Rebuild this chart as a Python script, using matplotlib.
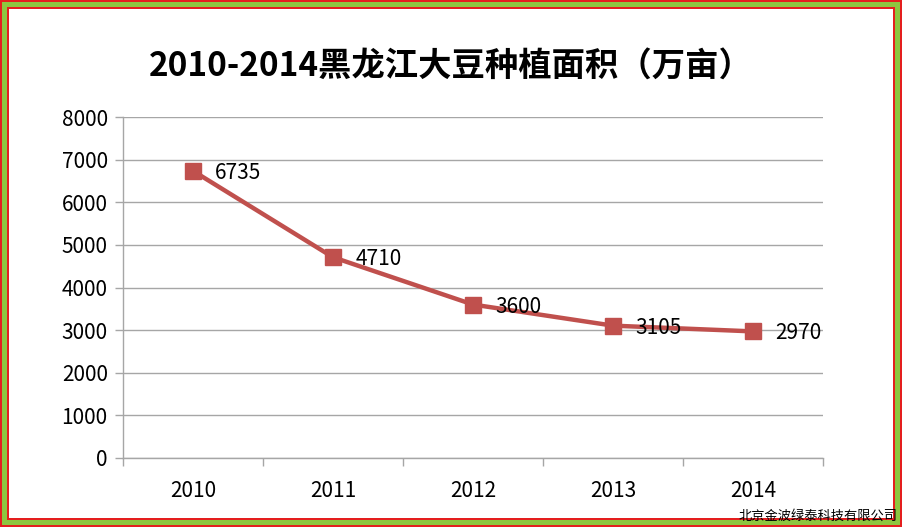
import matplotlib
matplotlib.use('Agg')
import matplotlib.pyplot as plt
from matplotlib.patches import Rectangle

plt.rcParams['font.family'] = ['Noto Sans CJK SC', 'DejaVu Sans']

# 数据
years = ['2010', '2011', '2012', '2013', '2014']
area = [6735, 4710, 3600, 3105, 2970]
title = '2010-2014黑龙江大豆种植面积（万亩）'
watermark = '北京金波绿泰科技有限公司'

W, H = 902, 527
fig = plt.figure(figsize=(W / 100, H / 100), dpi=100)

# 边框：红-绿-红
def frame(inset, color):
    fig.patches.append(Rectangle((inset / W, inset / H), 1 - 2 * inset / W, 1 - 2 * inset / H,
                                 transform=fig.transFigure, facecolor=color, edgecolor='none', zorder=-10))
frame(0, '#e41e1e')
frame(2, '#8dc63f')
frame(7, '#e41e1e')
frame(9, 'white')

ax = fig.add_axes([123 / W, 1 - 458 / H, 700 / W, 341 / H])
ax.set_facecolor('none')

x = list(range(len(years)))
ax.plot(x, area, color='#c0504d', lw=3.2, marker='s', ms=11.5, mec='#c0504d', mfc='#c0504d', zorder=3)
for xi, v in zip(x, area):
    ax.annotate(str(v), (xi, v), xytext=(16, -1.5), textcoords='offset points',
                va='center', ha='left', fontsize=15, color='black', zorder=4)

ax.set_xlim(-0.5, len(years) - 0.5)
ax.set_ylim(0, 8000)
ax.set_yticks(range(0, 8001, 1000))
ax.yaxis.grid(True, color='#a6a6a6', lw=1)
ax.set_axisbelow(True)

ax.set_xticks([i - 0.5 for i in range(len(years) + 1)])
ax.set_xticklabels([])
ax.set_xticks(x, minor=True)
ax.set_xticklabels(years, minor=True)
ax.tick_params(axis='x', which='major', length=6, color='#a6a6a6', width=1, direction='out')
ax.tick_params(axis='x', which='minor', length=0, pad=16, labelsize=15)
ax.tick_params(axis='y', length=6, color='#a6a6a6', width=1, labelsize=15, pad=5)

for s in ['top', 'right']:
    ax.spines[s].set_visible(False)
for s in ['left', 'bottom']:
    ax.spines[s].set_color('#a6a6a6')
    ax.spines[s].set_linewidth(1)

fig.text(451 / W, 1 - 66 / H, title, ha='center', va='center', fontsize=24, fontweight='bold')
fig.text(898 / W, 1 - 516 / H, watermark, ha='right', va='center', fontsize=9.5, color='black')

fig.savefig('out.png', dpi=100)
